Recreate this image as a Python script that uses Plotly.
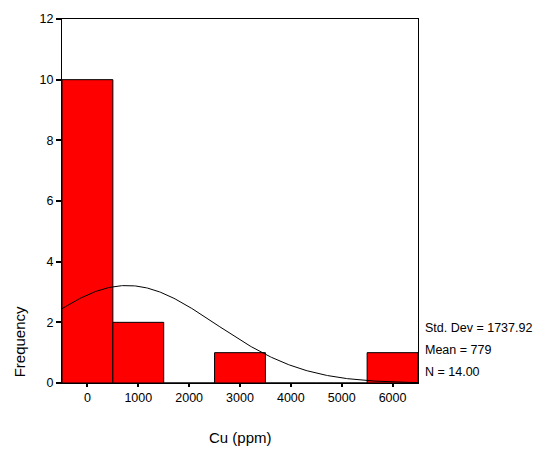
import numpy as np
import plotly.graph_objects as go

# Data
bin_centers = [0, 1000, 2000, 3000, 4000, 5000, 6000]
counts = [10, 2, 0, 1, 0, 0, 1]
bin_width = 1000
std_dev = 1737.92
mean = 779
n_obs = 14
x_ticks = [0, 1000, 2000, 3000, 4000, 5000, 6000]
y_ticks = [0, 2, 4, 6, 8, 10, 12]
stats_text = ["Std. Dev = 1737.92", "Mean = 779", "N = 14.00"]

# Fitted normal curve (from the stated mean / SD / N)
cx = np.linspace(-500, 6500, 300)
cy = n_obs * bin_width / (std_dev * np.sqrt(2 * np.pi)) * np.exp(-0.5 * ((cx - mean) / std_dev) ** 2)

FONT = "Liberation Sans, Arial, sans-serif"

fig = go.Figure()
fig.add_trace(go.Bar(
    x=bin_centers, y=counts, width=bin_width,
    marker=dict(color="#ff0000", line=dict(color="black", width=1)),
    showlegend=False, hoverinfo="skip",
))
fig.add_trace(go.Scatter(
    x=cx, y=cy, mode="lines", line=dict(color="black", width=1),
    showlegend=False, hoverinfo="skip",
))

L, R, T, B = 62, 418, 16, 383
W, H = 536, 450

fig.update_layout(
    width=W, height=H,
    margin=dict(l=L, r=W - R, t=T, b=H - B),
    paper_bgcolor="white", plot_bgcolor="white",
    font=dict(family=FONT, size=12.5, color="black"),
    bargap=0,
    xaxis=dict(
        range=[-500, 6500], tickvals=x_ticks, ticktext=[str(v) for v in x_ticks],
        showgrid=False, zeroline=False, showline=True, mirror=True,
        linecolor="black", linewidth=1, ticks="outside", ticklen=3, tickwidth=2,
        tickcolor="black",
    ),
    yaxis=dict(
        range=[0, 12], tickvals=y_ticks,
        showgrid=False, zeroline=False, showline=True, mirror=True,
        linecolor="black", linewidth=1, ticks="outside", ticklen=5, tickwidth=2,
        tickcolor="black",
    ),
)

pw, ph = R - L, B - T

def px_to_paper(px, py):
    return (px - L) / pw, (B - py) / ph

annotations = []
for txt, py in zip(stats_text, [327.7, 350, 372.3]):
    xp, yp = px_to_paper(422.7, py)
    annotations.append(dict(x=xp, y=yp, xref="paper", yref="paper", text=txt,
                            showarrow=False, xanchor="left", yanchor="middle",
                            font=dict(size=12.5)))
xp, yp = px_to_paper(240, 438)
annotations.append(dict(x=xp, y=yp, xref="paper", yref="paper", text="Cu (ppm)",
                        showarrow=False, xanchor="center", yanchor="middle",
                        font=dict(size=15)))
xp, yp = px_to_paper(19, 342)
annotations.append(dict(x=xp, y=yp, xref="paper", yref="paper", text="Frequency",
                        showarrow=False, xanchor="center", yanchor="middle",
                        textangle=-90, font=dict(size=15)))
fig.update_layout(annotations=annotations)

fig.write_html("out.html", config={"staticPlot": True},
               post_script="document.body.style.margin='0';document.body.style.overflow='hidden';")
